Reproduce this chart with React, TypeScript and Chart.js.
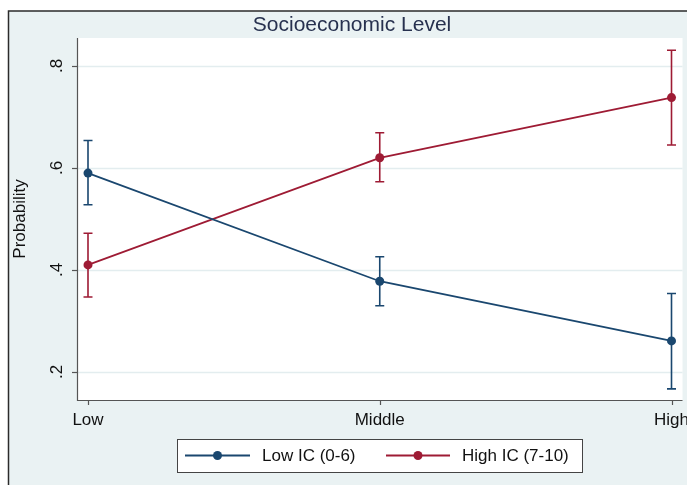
import React, { useEffect, useRef } from "react";
import { Chart, registerables } from "chart.js";

Chart.register(...registerables);

const categories = ["Low", "Middle", "High"];
const yTickValues = [0.2, 0.4, 0.6, 0.8];
const yTickLabels = [".2", ".4", ".6", ".8"];

const lowICLabel = "Low IC (0-6)";
const lowIC = [0.59, 0.378, 0.261];
const lowICLower = [0.528, 0.33, 0.167];
const lowICUpper = [0.654, 0.426, 0.354];

const highICLabel = "High IC (7-10)";
const highIC = [0.41, 0.62, 0.738];
const highICLower = [0.347, 0.573, 0.645];
const highICUpper = [0.472, 0.669, 0.831];

const title = "Socioeconomic Level";
const yTitle = "Probability";

const NAVY = "#1A476F";
const RED = "#9E1B34";
const BG = "#EAF2F3";
const FONT = '"Liberation Sans", Arial, sans-serif';

const seriesList = [
  { label: lowICLabel, values: lowIC, lo: lowICLower, hi: lowICUpper, color: NAVY },
  { label: highICLabel, values: highIC, lo: highICLower, hi: highICUpper, color: RED },
];

const framePlugin = {
  id: "stataFrame",
  beforeDraw(chart: any) {
    const { ctx, width, height, chartArea } = chart;
    const ys = chart.scales.y;
    ctx.save();
    ctx.fillStyle = "#FFFFFF";
    ctx.fillRect(0, 0, width, height);
    ctx.fillStyle = BG;
    ctx.fillRect(8, 11, width, height);
    ctx.strokeStyle = "#2b2b2b";
    ctx.lineWidth = 1.5;
    ctx.beginPath();
    ctx.moveTo(8.5, height + 5);
    ctx.lineTo(8.5, 11);
    ctx.lineTo(width + 5, 11);
    ctx.stroke();
    // plot region
    ctx.fillStyle = "#FFFFFF";
    ctx.fillRect(chartArea.left, chartArea.top, chartArea.right - chartArea.left, chartArea.bottom - chartArea.top);
    // gridlines
    ctx.strokeStyle = "#E3EDEF";
    ctx.lineWidth = 1.5;
    yTickValues.forEach((v) => {
      const py = Math.round(ys.getPixelForValue(v)) + 0.5;
      ctx.beginPath();
      ctx.moveTo(chartArea.left, py);
      ctx.lineTo(chartArea.right, py);
      ctx.stroke();
    });
    ctx.restore();
  },
  beforeDatasetsDraw(chart: any) {
    const { ctx, chartArea } = chart;
    const xs = chart.scales.x;
    const ys = chart.scales.y;
    ctx.save();
    // axes
    ctx.strokeStyle = "#555555";
    ctx.lineWidth = 1.2;
    ctx.beginPath();
    ctx.moveTo(chartArea.left + 0.5, chartArea.top);
    ctx.lineTo(chartArea.left + 0.5, chartArea.bottom + 0.5);
    ctx.lineTo(chartArea.right, chartArea.bottom + 0.5);
    ctx.stroke();
    // y tick marks
    yTickValues.forEach((v) => {
      const py = Math.round(ys.getPixelForValue(v)) + 0.5;
      ctx.beginPath();
      ctx.moveTo(chartArea.left - 5, py);
      ctx.lineTo(chartArea.left, py);
      ctx.stroke();
    });
    // x tick marks
    categories.forEach((_, i) => {
      const px = Math.round(xs.getPixelForValue(i)) + 0.5;
      ctx.beginPath();
      ctx.moveTo(px, chartArea.bottom);
      ctx.lineTo(px, chartArea.bottom + 5);
      ctx.stroke();
    });
    // error bars
    seriesList.forEach((s) => {
      ctx.strokeStyle = s.color;
      ctx.lineWidth = 1.6;
      s.values.forEach((_, i) => {
        const px = xs.getPixelForValue(i);
        const pLo = ys.getPixelForValue(s.lo[i]);
        const pHi = ys.getPixelForValue(s.hi[i]);
        ctx.beginPath();
        ctx.moveTo(px, pLo);
        ctx.lineTo(px, pHi);
        ctx.moveTo(px - 4.5, pLo);
        ctx.lineTo(px + 4.5, pLo);
        ctx.moveTo(px - 4.5, pHi);
        ctx.lineTo(px + 4.5, pHi);
        ctx.stroke();
      });
    });
    ctx.restore();
  },
  afterDraw(chart: any) {
    const { ctx, chartArea } = chart;
    const xs = chart.scales.x;
    const ys = chart.scales.y;
    ctx.save();
    // title
    ctx.fillStyle = "#27314F";
    ctx.font = `21px ${FONT}`;
    ctx.textAlign = "center";
    ctx.textBaseline = "alphabetic";
    ctx.fillText(title, 352, 31);
    // x tick labels
    ctx.fillStyle = "#111111";
    ctx.font = `17px ${FONT}`;
    categories.forEach((c, i) => {
      ctx.fillText(c, xs.getPixelForValue(i), 425);
    });
    // y tick labels rotated
    yTickValues.forEach((v, i) => {
      ctx.save();
      ctx.translate(62, ys.getPixelForValue(v));
      ctx.rotate(-Math.PI / 2);
      ctx.textAlign = "center";
      ctx.fillText(yTickLabels[i], 0, 0);
      ctx.restore();
    });
    // y title
    ctx.save();
    ctx.translate(25, (chartArea.top + chartArea.bottom) / 2);
    ctx.rotate(-Math.PI / 2);
    ctx.textAlign = "center";
    ctx.fillText(yTitle, 0, 0);
    ctx.restore();
    // legend
    const bx = 177, by = 439, bw = 405, bh = 33;
    ctx.fillStyle = "#FFFFFF";
    ctx.fillRect(bx, by, bw, bh);
    ctx.strokeStyle = "#444444";
    ctx.lineWidth = 1;
    ctx.strokeRect(bx + 0.5, by + 0.5, bw, bh);
    const items = [
      { s: seriesList[0], x0: 185, x1: 250, tx: 262 },
      { s: seriesList[1], x0: 386, x1: 450, tx: 462 },
    ];
    const ly = 455.5;
    items.forEach((it) => {
      ctx.strokeStyle = it.s.color;
      ctx.lineWidth = 1.8;
      ctx.beginPath();
      ctx.moveTo(it.x0, ly);
      ctx.lineTo(it.x1, ly);
      ctx.stroke();
      ctx.fillStyle = it.s.color;
      ctx.beginPath();
      ctx.arc((it.x0 + it.x1) / 2, ly, 4.5, 0, Math.PI * 2);
      ctx.fill();
      ctx.fillStyle = "#111111";
      ctx.font = `17px ${FONT}`;
      ctx.textAlign = "left";
      ctx.textBaseline = "middle";
      ctx.fillText(it.s.label, it.tx, ly + 1);
    });
    ctx.restore();
  },
};

export default function App() {
  const canvasRef = useRef<HTMLCanvasElement | null>(null);

  useEffect(() => {
    if (!canvasRef.current) return;
    const chart = new Chart(canvasRef.current, {
      type: "line",
      data: {
        datasets: seriesList.map((s) => ({
          label: s.label,
          data: s.values.map((v, i) => ({ x: i, y: v })),
          borderColor: s.color,
          backgroundColor: s.color,
          borderWidth: 1.8,
          pointRadius: 4.5,
          pointHoverRadius: 4.5,
          pointBackgroundColor: s.color,
          pointBorderWidth: 0,
          tension: 0,
          clip: false as any,
        })),
      },
      options: {
        responsive: false,
        animation: false,
        events: [],
        layout: { padding: { left: 77, top: 38, right: 4, bottom: 85 } },
        plugins: {
          legend: { display: false },
          title: { display: false },
          tooltip: { enabled: false },
        },
        scales: {
          x: { type: "linear", display: false, min: -0.0377, max: 2.0377 },
          y: { type: "linear", display: false, min: 0.1451, max: 0.8549 },
        },
      },
      plugins: [framePlugin],
    });
    return () => chart.destroy();
  }, []);

  return (
    <div style={{ position: "fixed", left: 0, top: 0, width: 687, height: 485 }}>
      <canvas ref={canvasRef} width={687} height={485} style={{ display: "block" }} />
    </div>
  );
}
